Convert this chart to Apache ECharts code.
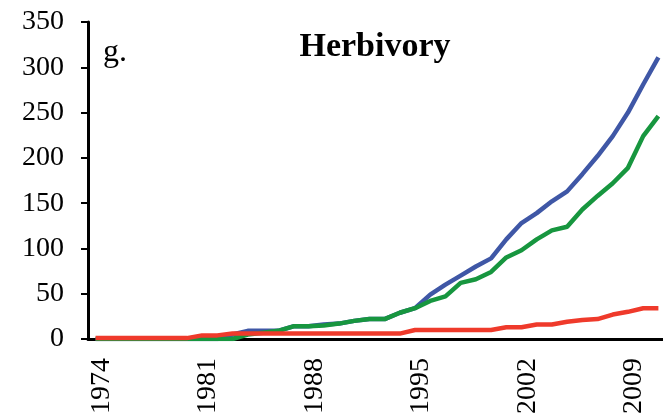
<!DOCTYPE html>
<html>
<head>
<meta charset="utf-8">
<script src="https://cdn.jsdelivr.net/npm/echarts@6/dist/echarts.min.js"></script>
<style>
  html, body { margin: 0; padding: 0; background: #fff; }
  #main { width: 663px; height: 416px; }
</style>
</head>
<body>
<div id="main"></div>
<script>
// years on the x axis
var years = ['1974','1975','1976','1977','1978','1979','1980','1981','1982','1983',
  '1984','1985','1986','1987','1988','1989','1990','1991','1992','1993',
  '1994','1995','1996','1997','1998','1999','2000','2001','2002','2003',
  '2004','2005','2006','2007','2008','2009','2010','2011'];

// cumulative counts
var blueLine = [0,0,0,0,0,0,0,0,0,5,
  9,9,9,14,14,16,17,20,22,22,
  29,34,49,60,70,80,89,110,128,139,
  152,163,182,202,224,250,281,311];
var greenLine = [0,0,0,0,0,0,0,0,0,0,
  5,7,9,14,14,15,17,20,22,22,
  29,34,42,47,62,66,74,90,98,110,
  120,124,143,158,172,189,224,246];
var redLine = [1,1,1,1,1,1,1,4,4,6,
  6,6,6,6,6,6,6,6,6,6,
  6,10,10,10,10,10,10,13,13,16,
  16,19,21,22,27,30,34,34];

var serif = '"Liberation Serif", "DejaVu Serif", serif';

var chart = echarts.init(document.getElementById('main'));
chart.setOption({
  animation: false,
  grid: { left: 88, right: -3, top: 22, bottom: 77, outerBoundsMode: 'none' },
  graphic: [
    { type: 'text', left: 103, top: 37,
      style: { text: 'g.', font: '32px ' + serif, fill: '#000' } },
    { type: 'text', x: 375, y: 30,
      style: { text: 'Herbivory', font: 'bold 34px ' + serif, fill: '#000', textAlign: 'center', textVerticalAlign: 'top' } }
  ],
  xAxis: {
    type: 'category',
    data: years,
    boundaryGap: true,
    axisLine: { lineStyle: { color: '#000', width: 3 } },
    axisTick: { length: 7, interval: 6, lineStyle: { color: '#000', width: 2 } },
    axisLabel: { interval: 6, rotate: 90, margin: 19, color: '#000', fontFamily: serif, fontSize: 28,
      verticalAlign: 'top', lineHeight: 12 },
    splitLine: { show: false }
  },
  yAxis: {
    type: 'value',
    min: 0, max: 350, interval: 50,
    axisLine: { show: true, lineStyle: { color: '#000', width: 3 } },
    axisTick: { show: true, length: 7, lineStyle: { color: '#000', width: 2 } },
    axisLabel: { margin: 24, color: '#000', fontFamily: serif, fontSize: 28 },
    splitLine: { show: false }
  },
  series: [
    { type: 'line', data: blueLine, showSymbol: false, lineStyle: { color: '#3f57a6', width: 4.5 } },
    { type: 'line', data: greenLine, showSymbol: false, lineStyle: { color: '#17963f', width: 4.5 } },
    { type: 'line', data: redLine, showSymbol: false, lineStyle: { color: '#ef3a2b', width: 4.5 } }
  ]
});
</script>
</body>
</html>
